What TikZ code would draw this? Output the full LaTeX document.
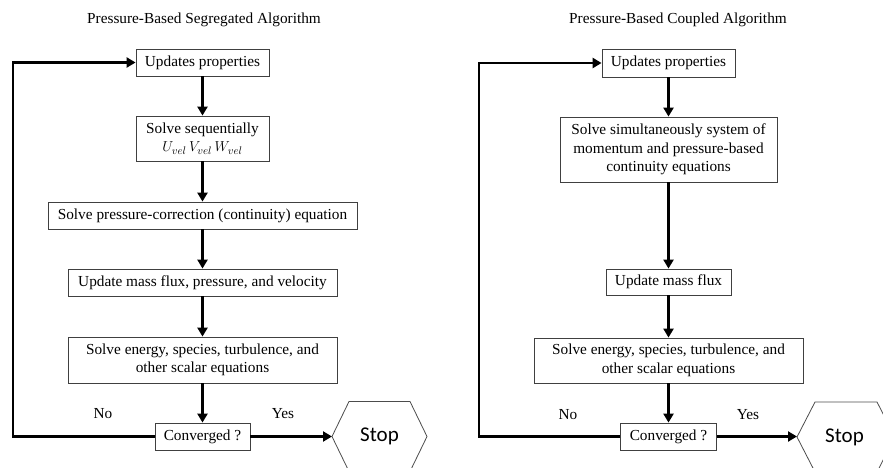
\documentclass[tikz,border=0pt]{standalone}
\usepackage{fontspec}
\setmainfont{Liberation Serif}
\newfontfamily\stopfont{Carlito}
\usetikzlibrary{arrows.meta}
\begin{document}
\begin{tikzpicture}[x=1pt,y=-1pt,
  box/.style={draw=black!75,line width=0.8pt,inner sep=0pt,align=center,
    font=\fontsize{15.3}{18.5}\selectfont,text=black},
  flow/.style={line width=2.6pt,-{Triangle[length=9pt,width=10pt]}},
  lbl/.style={font=\fontsize{15.3}{18}\selectfont},
  hexa/.style={draw=black!70,line width=0.8pt}]
\useasboundingbox (0,0) rectangle (883,468);
\clip (0,0) rectangle (883,468);

% ---------- left: segregated ----------
\node[lbl] (titleL) at (204,20) {Pressure-Based Segregated Algorithm};
\node[box,minimum width=133pt,minimum height=27pt] (l1) at (202.5,62.5) {Updates properties};
\node[box,minimum width=133pt,minimum height=45pt] (l2) at (202.5,138.5) {Solve sequentially\\$U_{vel}\,V_{vel}\,W_{vel}$};
\node[box,minimum width=309pt,minimum height=27pt] (l3) at (202.5,215.5) {Solve pressure-correction (continuity) equation};
\node[box,minimum width=269pt,minimum height=27pt] (l4) at (202.5,282.5) {Update mass flux, pressure, and velocity};
\node[box,minimum width=269pt,minimum height=46pt] (l5) at (202.5,360) {Solve energy, species, turbulence, and\\other scalar equations};
\node[box,minimum width=95pt,minimum height=27pt] (l6) at (202.5,436.5) {Converged ?};
\node[lbl] (noL) at (103,414) {No};
\node[lbl] (yesL) at (283,414) {Yes};
\node[font=\stopfont\fontsize{21}{24}\selectfont] (stopL) at (379.5,436.5) {Stop};
\draw[hexa] (332,436.5) -- (349,401.5) -- (410,401.5) -- (427,436.5) -- (410,471.5) -- (349,471.5) -- cycle;
\coordinate (stopLv) at (332,436.5);
\coordinate (cornLb) at (13,436.5);
\coordinate (cornLt) at (13,62.5);

\draw[flow] (l1) -- (l2);
\draw[flow] (l2) -- (l3);
\draw[flow] (l3) -- (l4);
\draw[flow] (l4) -- (l5);
\draw[flow] (l5) -- (l6);
\draw[flow] (l6) -- (stopLv);
\draw[flow] (l6.west) -- (cornLb) -- (cornLt) -- (l1.west);

% ---------- right: coupled ----------
\node[lbl] (titleR) at (678,20) {Pressure-Based Coupled Algorithm};
\node[box,minimum width=133pt,minimum height=28pt] (r1) at (668.5,63) {Updates properties};
\node[box,minimum width=217pt,minimum height=65pt] (r2) at (668.5,149.5) {Solve simultaneously system of\\momentum and pressure-based\\continuity equations};
\node[box,minimum width=125pt,minimum height=26pt] (r3) at (668.5,282) {Update mass flux};
\node[box,minimum width=269pt,minimum height=45pt] (r4) at (668.5,360.5) {Solve energy, species, turbulence, and\\other scalar equations};
\node[box,minimum width=96pt,minimum height=27pt] (r5) at (668.5,436.5) {Converged ?};
\node[lbl] (noR) at (568,415) {No};
\node[lbl] (yesR) at (748,415) {Yes};
\node[font=\stopfont\fontsize{21}{24}\selectfont] (stopR) at (844.5,437) {Stop};
\draw[hexa] (797,437) -- (815,402) -- (877,402) -- (895,437) -- (877,472) -- (815,472) -- cycle;
\coordinate (stopRv) at (797,436.5);
\coordinate (cornRb) at (479,436.5);
\coordinate (cornRt) at (479,63);

\draw[flow] (r1) -- (r2);
\draw[flow] (r2) -- (r3);
\draw[flow] (r3) -- (r4);
\draw[flow] (r4) -- (r5);
\draw[flow] (r5) -- (stopRv);
\draw[flow] (r5.west) -- (cornRb) -- (cornRt) -- (r1.west);
\end{tikzpicture}
\end{document}
